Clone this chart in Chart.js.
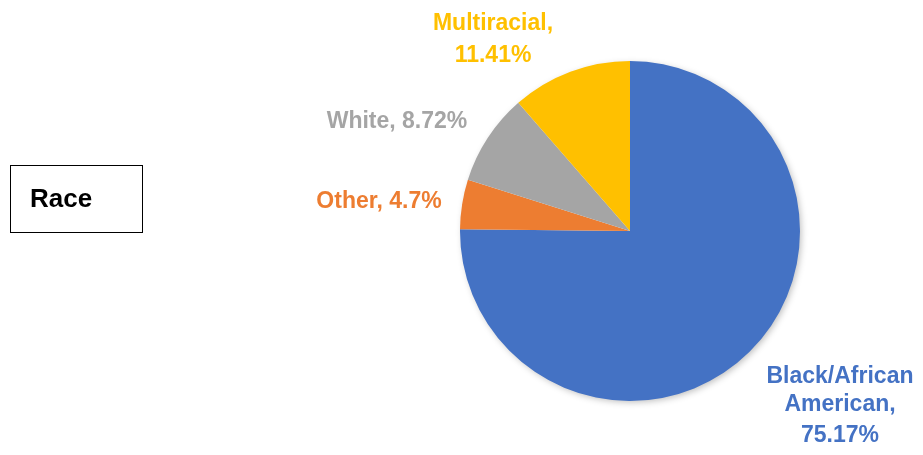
<!DOCTYPE html>
<html>
<head>
<meta charset="utf-8">
<script src="https://cdn.jsdelivr.net/npm/chart.js@4"></script>
<style>
  html, body { margin: 0; padding: 0; background: #fff; }
  #wrap { position: relative; width: 923px; height: 455px; }
  #raceBox {
    position: absolute; left: 10px; top: 165px; width: 133px; height: 68px;
    border: 1px solid #000; box-sizing: border-box;
    font: bold 26px "Liberation Sans", Arial, sans-serif; color: #000;
    padding: 17px 0 0 19px;
  }
</style>
</head>
<body>
<div id="wrap">
  <canvas id="chart" width="923" height="455"></canvas>
  <div id="raceBox">Race</div>
</div>
<script>
/* Race pie */

const categories = ['Black/African American', 'Other', 'White', 'Multiracial'];
const values = [75.17, 4.7, 8.72, 11.41];
const colors = ['#4472C4', '#ED7D31', '#A5A5A5', '#FFC000'];
const labelLines = [
  ['Black/African', 'American,', '75.17%'],
  ['Other, 4.7%'],
  ['White, 8.72%'],
  ['Multiracial,', '11.41%']
];

// label text offsets from pie centre (px), one entry per line
const LABEL_POS = [
  [[210, 145], [210, 173], [210, 204]],
  [[-251, -30]],
  [[-233, -110]],
  [[-137, -208], [-137, -176]]
];

const pieShadow = {
  id: 'pieShadow',
  beforeDatasetsDraw(chart) {
    const arc = chart.getDatasetMeta(0).data[0];
    if (!arc) return;
    const ctx = chart.ctx;
    ctx.save();
    ctx.shadowColor = 'rgba(0,0,0,0.28)';
    ctx.shadowBlur = 7;
    ctx.shadowOffsetX = 2;
    ctx.shadowOffsetY = 2;
    ctx.fillStyle = '#fff';
    ctx.beginPath();
    ctx.arc(arc.x, arc.y, arc.outerRadius - 1, 0, Math.PI * 2);
    ctx.fill();
    ctx.restore();
  }
};

const outLabels = {
  id: 'outLabels',
  afterDatasetsDraw(chart) {
    const ctx = chart.ctx;
    const arcs = chart.getDatasetMeta(0).data;
    ctx.save();
    ctx.font = 'bold 23px "Liberation Sans", Arial, sans-serif';
    ctx.textAlign = 'center';
    ctx.textBaseline = 'middle';
    arcs.forEach((arc, i) => {
      ctx.fillStyle = colors[i];
      labelLines[i].forEach((line, j) => {
        const p = LABEL_POS[i][j];
        ctx.fillText(line, arc.x + p[0], arc.y + p[1] + 1);
      });
    });
    ctx.restore();
  }
};

new Chart(document.getElementById('chart'), {
  type: 'pie',
  data: {
    labels: categories,
    datasets: [{ data: values, backgroundColor: colors, borderWidth: 0 }]
  },
  options: {
    responsive: false,
    animation: false,
    layout: { padding: { left: 460, right: 123, top: 61, bottom: 54 } },
    plugins: { legend: { display: false }, tooltip: { enabled: false } }
  },
  plugins: [pieShadow, outLabels]
});
</script>
</body>
</html>
